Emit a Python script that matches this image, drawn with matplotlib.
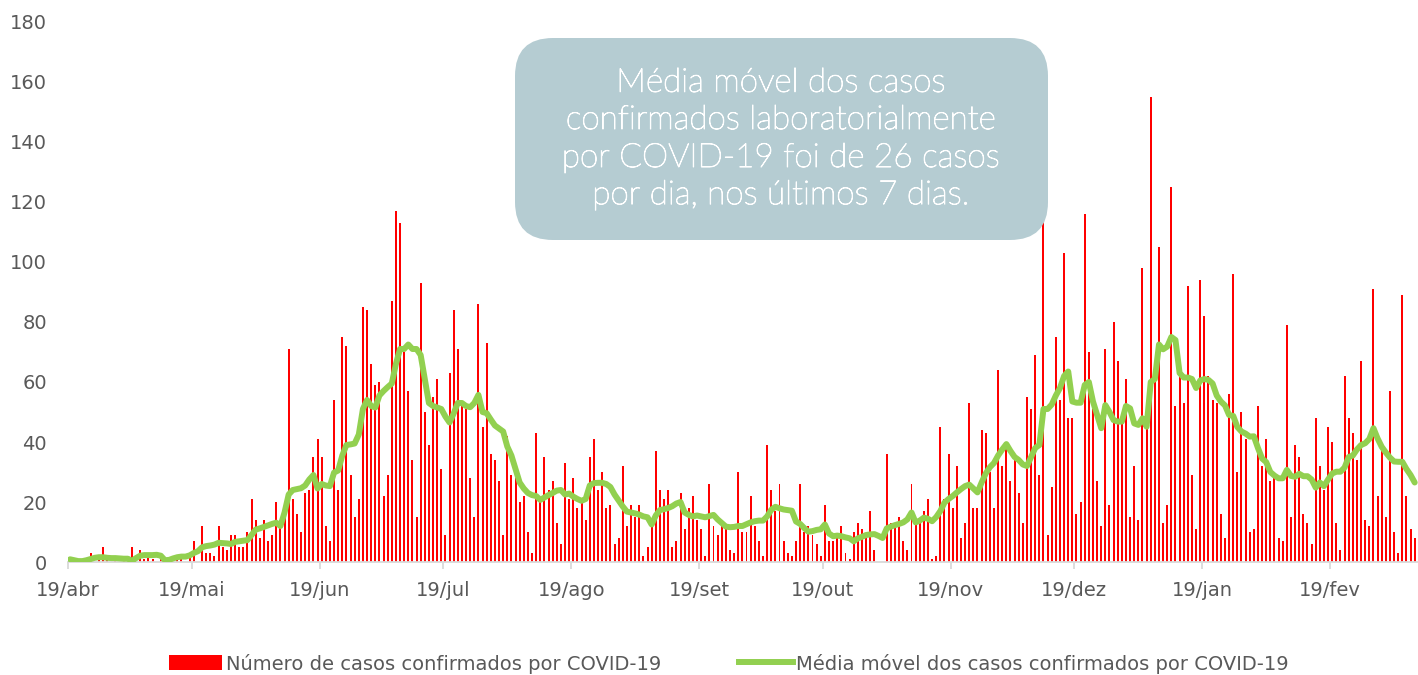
import matplotlib
matplotlib.use('Agg')
import matplotlib.pyplot as plt
import matplotlib.transforms as mtransforms
import matplotlib.patheffects as pe
from matplotlib.patches import FancyBboxPatch, Patch
from matplotlib.lines import Line2D
import numpy as np
import pandas as pd

# ---- dados (casos diarios a partir de 19/abr) ----
inicio = '2020-04-19'

casos = [
    1, 0, 0, 0, 1, 3, 0, 1, 5, 1, 0, 1, 0, 1, 1, 5, 0, 4, 1, 2, 1, 0, 3, 1, 0, 0, 2, 1, 0,
    3, 7, 0, 12, 3, 3, 2, 12, 5, 4, 9, 9, 5, 5, 10, 21, 14, 8, 14, 7, 9, 20, 14, 19, 71, 21, 16, 10, 23, 24,
    35, 41, 35, 12, 7, 54, 24, 75, 72, 29, 15, 21, 85, 84, 66, 59, 60, 22, 29, 87, 117, 113, 70, 57, 34, 15, 93, 50, 39, 55,
    61, 31, 9, 63, 84, 71, 53, 51, 28, 15, 86, 45, 73, 36, 34, 27, 9, 42, 29, 28, 20, 22, 10, 3, 43, 21, 35, 24, 27, 13,
    6, 33, 21, 28, 18, 20, 14, 35, 41, 24, 30, 18, 19, 6, 8, 32, 12, 19, 15, 19, 2, 5, 12, 37, 24, 21, 24, 5, 7, 23, 11,
    18, 22, 14, 11, 2, 26, 12, 9, 12, 11, 4, 3, 30, 10, 10, 22, 12, 7, 2, 39, 24, 17, 26, 7, 3, 2, 7, 26, 10, 12,
    9, 6, 2, 19, 7, 7, 8, 12, 3, 1, 10, 13, 11, 8, 17, 4, 0, 0, 36, 13, 13, 15, 7, 4, 26, 13, 13, 17, 21, 1,
    2, 45, 21, 36, 18, 32, 8, 13, 53, 18, 18, 44, 43, 30, 18, 64, 32, 40, 27, 34, 23, 13, 55, 51, 69, 29, 114, 9, 25, 75, 54,
    103, 48, 48, 16, 20, 116, 70, 51, 27, 12, 71, 19, 80, 67, 46, 61, 15, 32, 14, 98, 46, 155, 60, 105, 13, 19, 125, 52, 62, 53,
    92, 29, 11, 94, 82, 62, 54, 53, 16, 8, 56, 96, 30, 50, 41, 10, 11, 52, 32, 41, 27, 28, 8, 7, 79, 15, 39, 35, 16, 13,
    6, 48, 32, 24, 45, 40, 13, 4, 62, 48, 43, 34, 67, 14, 12, 91, 22, 37, 15, 57, 10, 3, 89, 22, 11, 8,
]

media_movel = [
    0.9, 0.6, 0.3, 0.3, 0.6, 1.0, 1.4, 1.6, 1.6, 1.4, 1.3, 1.3, 1.2, 1.1, 1.1, 0.4, 1.3, 2.1, 2.3, 2.3, 2.3, 2.4, 2.1, 0.6, 0.7, 1.2, 1.6, 1.8, 1.8,
    2.2, 3.0, 3.6, 4.9, 5.3, 5.5, 5.8, 6.4, 6.3, 6.2, 6.0, 6.7, 6.9, 7.1, 7.3, 9.0, 10.8, 11.2, 11.7, 12.2, 12.7, 13.1, 12.0, 16.5, 22.5, 24.0, 24.3, 24.6, 25.5, 27.5,
    29.0, 24.5, 26.0, 25.5, 25.3, 29.8, 30.5, 35.5, 39.0, 39.2, 39.5, 42.5, 51.0, 54.0, 52.0, 51.5, 55.5, 57.0, 58.3, 59.5, 66.0, 71.0, 71.0, 72.5, 71.0, 71.0, 69.0, 61.0, 53.0, 52.0,
    51.5, 51.0, 48.5, 46.5, 49.5, 53.0, 53.0, 52.0, 51.6, 53.0, 55.7, 50.0, 49.6, 47.5, 45.5, 44.5, 43.5, 38.5, 35.5, 31.0, 26.5, 24.5, 23.0, 22.3, 22.0, 20.7, 21.5, 22.3, 23.0, 23.8,
    24.0, 22.5, 22.8, 21.8, 21.0, 20.4, 21.0, 25.5, 26.3, 26.4, 26.4, 26.0, 25.0, 22.5, 20.5, 18.5, 16.8, 16.5, 16.2, 15.8, 15.2, 14.9, 12.5, 15.5, 17.3, 17.6, 18.0, 18.6, 19.5, 20.0, 16.5,
    15.7, 15.2, 15.5, 15.2, 14.9, 15.3, 15.7, 14.2, 13.0, 11.8, 11.6, 11.7, 12.0, 12.0, 12.6, 13.2, 13.6, 13.8, 13.8, 15.2, 17.4, 18.4, 17.9, 17.5, 17.3, 17.1, 13.5, 12.7, 11.3, 10.1,
    10.3, 10.7, 10.9, 12.5, 9.5, 8.6, 8.8, 8.6, 8.2, 7.9, 6.9, 7.9, 8.4, 9.0, 9.2, 9.3, 8.7, 8.0, 11.2, 11.8, 12.3, 12.7, 13.2, 14.2, 16.5, 13.2, 13.8, 14.8, 14.4, 13.6,
    15.0, 17.0, 19.8, 21.0, 22.0, 23.2, 24.3, 25.3, 25.8, 24.5, 23.2, 26.5, 29.5, 31.6, 33.0, 35.5, 37.5, 39.3, 37.0, 35.0, 34.0, 32.5, 32.0, 35.0, 38.0, 39.0, 51.0, 51.0, 52.5, 55.5, 58.0,
    62.0, 63.5, 53.5, 53.1, 53.1, 59.0, 60.0, 53.5, 49.0, 44.6, 52.3, 50.0, 47.3, 46.8, 46.8, 52.0, 51.2, 46.2, 45.7, 47.9, 45.1, 60.0, 61.0, 72.5, 70.9, 71.8, 75.0, 74.0, 63.0, 61.5,
    61.5, 61.0, 58.0, 60.5, 61.0, 60.7, 59.5, 55.5, 53.5, 52.2, 49.0, 48.7, 45.0, 43.5, 42.8, 41.8, 41.9, 38.0, 34.5, 33.3, 30.0, 28.8, 27.9, 27.9, 30.7, 28.7, 28.4, 29.4, 28.6, 28.6,
    27.5, 24.8, 26.5, 25.3, 27.5, 29.5, 30.1, 30.1, 31.5, 35.0, 35.5, 37.5, 39.0, 39.6, 41.0, 44.6, 41.2, 38.4, 36.5, 34.8, 33.5, 33.4, 33.4, 31.0, 29.0, 26.5,
]

meses = ['jan', 'fev', 'mar', 'abr', 'mai', 'jun', 'jul', 'ago', 'set', 'out', 'nov', 'dez']
rotulo_barras = 'Número de casos confirmados por COVID-19'
rotulo_linha = 'Média móvel dos casos confirmados por COVID-19'
texto_caixa = ('Média móvel dos casos\nconfirmados laboratorialmente\n'
               'por COVID-19 foi de 26 casos\npor dia, nos últimos 7 dias.')

# ---- cores ----
vermelho = '#FF0000'
verde = '#92D050'
cinza = '#595959'

datas = pd.date_range(inicio, periods=len(casos), freq='D')
x = np.arange(len(casos))
ticks = [i - 0.5 for i, d in enumerate(datas) if d.day == 19]
ticklabels = ['19/' + meses[d.month - 1] for d in datas if d.day == 19]

fig = plt.figure(figsize=(14.18, 6.75), dpi=100)
ax = fig.add_axes([68 / 1418, 113 / 675, 1350 / 1418, 540 / 675])

ax.bar(x, casos, width=0.48, color=vermelho, linewidth=0, zorder=2)
ax.plot(x, media_movel, color=verde, lw=4.3, solid_joinstyle='round',
        solid_capstyle='round', zorder=3)

ax.set_xlim(-0.5, 326.8)
ax.set_ylim(0, 180)
ax.set_yticks(np.arange(0, 181, 20))
ax.set_xticks(ticks)
ax.set_xticklabels(ticklabels)

for s in ['top', 'right', 'left']:
    ax.spines[s].set_visible(False)
ax.spines['bottom'].set_color('#D9D9D9')
ax.spines['bottom'].set_linewidth(1.3)
ax.tick_params(axis='y', length=0, pad=15, labelsize=14, labelcolor=cinza)
ax.tick_params(axis='x', length=5, width=1.3, color='#D9D9D9', pad=9,
               labelsize=14, labelcolor=cinza)

# caixa de texto arredondada (coordenadas em pixels)
caixa = FancyBboxPatch((515, 435), 533, 202,
                       boxstyle='round,pad=0,rounding_size=38',
                       transform=mtransforms.IdentityTransform(),
                       facecolor='#B5CCD2', edgecolor='none', zorder=5)
fig.patches.append(caixa)
fig.text(781 / 1418, 1 - 139 / 675, texto_caixa, ha='center', va='center',
         color='white', fontsize=24, family=['Lato', 'DejaVu Sans'],
         fontweight='light', linespacing=1.3, zorder=6,
         path_effects=[pe.withStroke(linewidth=0.7, foreground='white')])

# legenda
handles = [Patch(facecolor=vermelho, edgecolor='none'),
           Line2D([], [], color=verde, lw=4.3)]
fig.legend(handles, [rotulo_barras, rotulo_linha], loc='center',
           bbox_to_anchor=(0.514, 0.017), ncol=2, frameon=False,
           fontsize=14, handlelength=2.75, handleheight=0.8,
           handletextpad=0.2, columnspacing=4.0, labelcolor=cinza)

fig.savefig('out.png', dpi=100)
